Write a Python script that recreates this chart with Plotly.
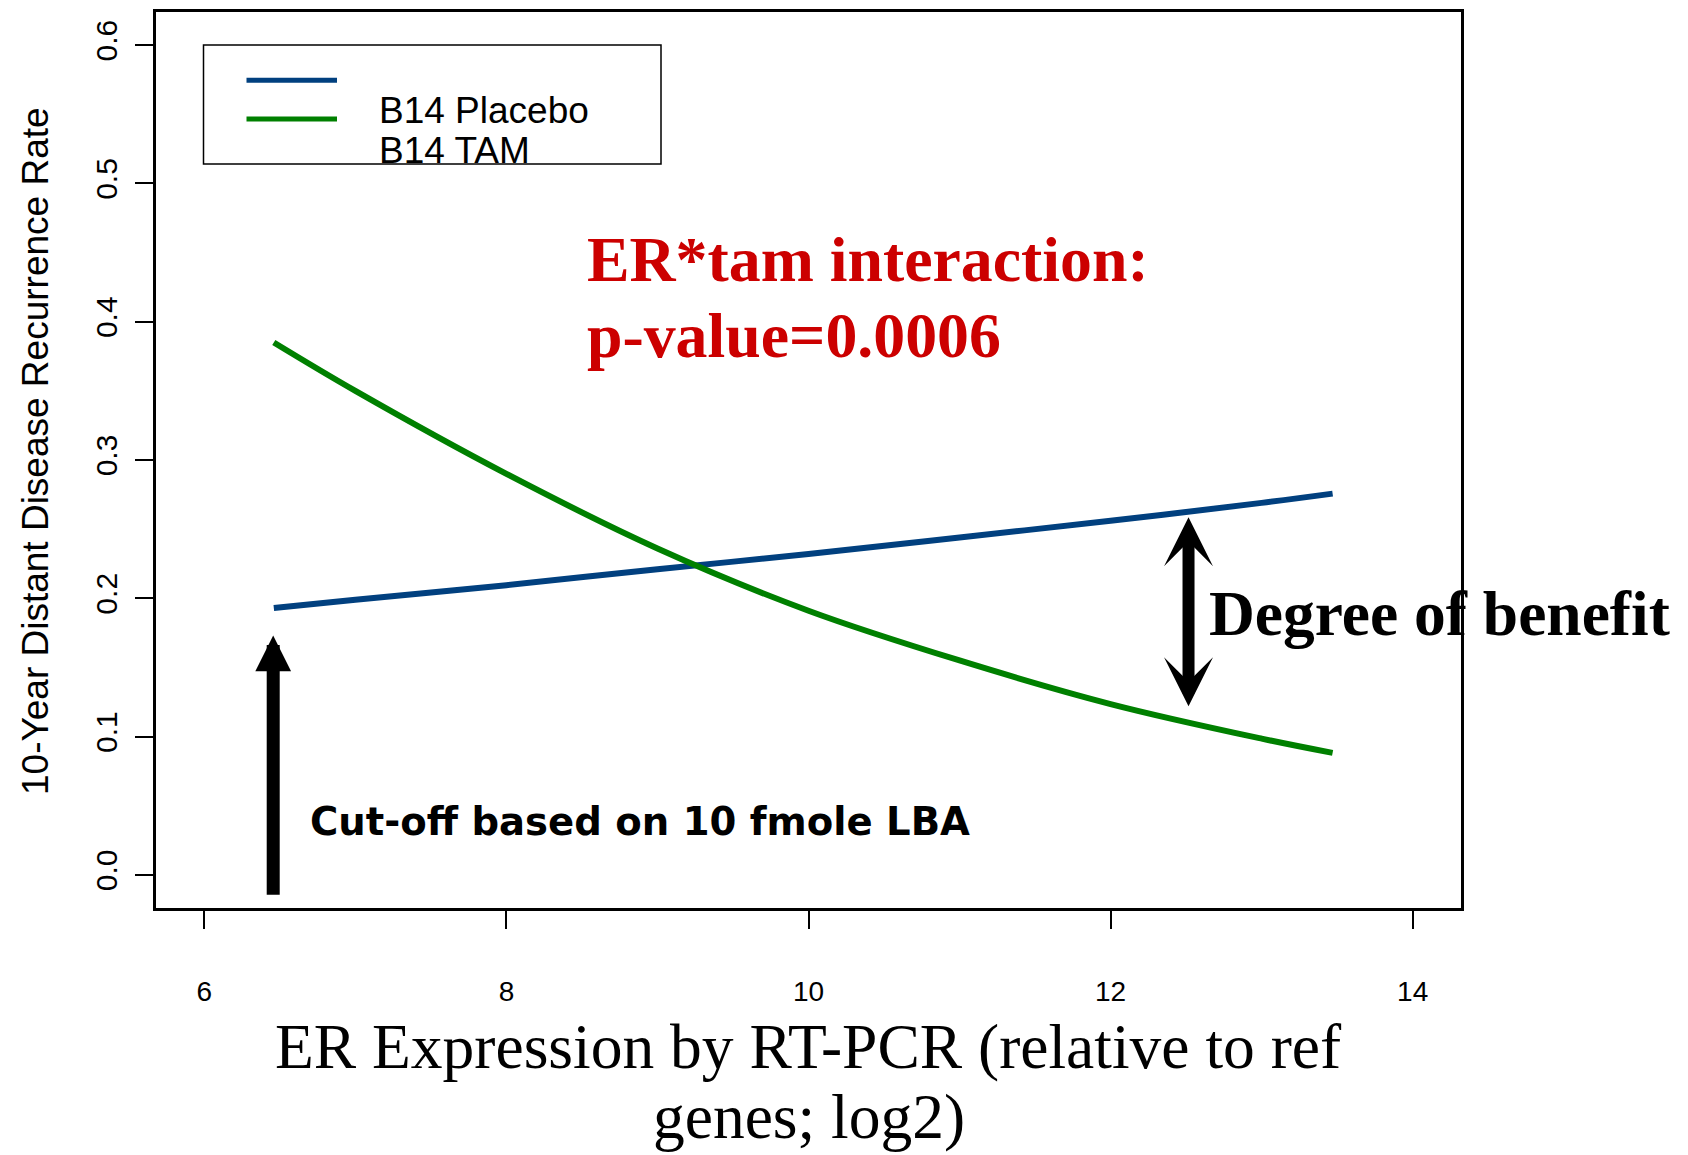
import plotly.graph_objects as go

# ---- data ----
er_x = [6.46, 7, 8, 9, 10, 11, 12, 13, 13.47]
placebo_rate = [0.193, 0.199, 0.2095, 0.221, 0.232, 0.244, 0.256, 0.269, 0.2757]
tam_rate = [0.385, 0.350, 0.290, 0.236, 0.191, 0.155, 0.1235, 0.0985, 0.0882]

series_names = ["B14 Placebo", "B14 TAM"]
x_ticks = [6, 8, 10, 12, 14]
x_ticklabels = ["6", "8", "10", "12", "14"]
y_ticks = [0.0, 0.1, 0.2, 0.3, 0.4, 0.5, 0.6]
y_ticklabels = ["0.0", "0.1", "0.2", "0.3", "0.4", "0.5", "0.6"]

cutoff_x = 6.456
cutoff_arrow_y = [-0.0155, 0.173]
benefit_x = 12.516
benefit_arrow_y = [0.1209, 0.2586]

BLUE = "#01407f"
GREEN = "#008000"
RED = "#cc0000"

W, H = 1688, 1155
ML, MR, MT, MB = 156, 227, 9, 247
PW = W - ML - MR
PH = H - MT - MB


def pxx(px):
    return (px - ML) / PW


def pyy(py):
    return (H - MB - py) / PH


fig = go.Figure()
fig.add_trace(go.Scatter(x=er_x, y=placebo_rate, mode="lines", name=series_names[0],
                         line=dict(color=BLUE, width=6, shape="spline"), showlegend=False))
fig.add_trace(go.Scatter(x=er_x, y=tam_rate, mode="lines", name=series_names[1],
                         line=dict(color=GREEN, width=6, shape="spline"), showlegend=False))

serif = "Liberation Serif, Times New Roman, serif"
sans = "Liberation Sans, Arial, sans-serif"

annotations = [
    # y axis title
    dict(text="10-Year Distant Disease Recurrence Rate", xref="paper", yref="paper",
         x=pxx(35.5), y=pyy(450), textangle=-90, showarrow=False,
         font=dict(family=sans, size=37, color="black"), xanchor="center", yanchor="middle"),
    # x axis title (two lines)
    dict(text="ER Expression by RT-PCR (relative to ref", xref="paper", yref="paper",
         x=pxx(808.5), y=pyy(1047), showarrow=False,
         font=dict(family=serif, size=63.5, color="black"), xanchor="center", yanchor="middle"),
    dict(text="genes; log2)", xref="paper", yref="paper",
         x=pxx(808.5), y=pyy(1117), showarrow=False,
         font=dict(family=serif, size=63.5, color="black"), xanchor="center", yanchor="middle"),
    # red interaction text
    dict(text="<b>ER*tam interaction:</b>", xref="paper", yref="paper",
         x=pxx(585), y=pyy(257.5), showarrow=False,
         font=dict(family=serif, size=63.8, color=RED), xanchor="left", yanchor="middle"),
    dict(text="<b>p-value=0.0006</b>", xref="paper", yref="paper",
         x=pxx(585), y=pyy(334), showarrow=False,
         font=dict(family=serif, size=63.8, color=RED), xanchor="left", yanchor="middle"),
    # degree of benefit
    dict(text="<b>Degree of benefit</b>", xref="paper", yref="paper",
         x=pxx(1207), y=pyy(613), showarrow=False,
         font=dict(family=serif, size=63.5, color="black"), xanchor="left", yanchor="middle"),
    # cut-off text
    dict(text="<b>Cut-off based on 10 fmole LBA</b>", xref="paper", yref="paper",
         x=pxx(308), y=pyy(821), showarrow=False,
         font=dict(family="Comic Sans MS, DejaVu Sans, sans-serif", size=38.6, color="black"),
         xanchor="left", yanchor="middle"),
    # legend texts
    dict(text=series_names[0], xref="paper", yref="paper",
         x=pxx(377), y=pyy(108), showarrow=False,
         font=dict(family=sans, size=37, color="black"), xanchor="left", yanchor="middle"),
    dict(text=series_names[1], xref="paper", yref="paper",
         x=pxx(377), y=pyy(148), showarrow=False,
         font=dict(family=sans, size=37, color="black"), xanchor="left", yanchor="middle"),
    # cut-off arrow
    dict(x=cutoff_x, y=cutoff_arrow_y[1], ax=cutoff_x, ay=cutoff_arrow_y[0],
         xref="x", yref="y", axref="x", ayref="y", text="", showarrow=True,
         arrowhead=2, arrowsize=0.55, arrowwidth=13, arrowcolor="black"),
    # degree of benefit double arrow
    dict(x=benefit_x, y=benefit_arrow_y[1], ax=benefit_x, ay=benefit_arrow_y[0],
         xref="x", yref="y", axref="x", ayref="y", text="", showarrow=True,
         arrowside="end+start", arrowhead=3, startarrowhead=3,
         arrowsize=0.68, startarrowsize=0.68, arrowwidth=12, arrowcolor="black"),
]

shapes = [
    # legend box
    dict(type="rect", xref="paper", yref="paper", x0=pxx(203.5), x1=pxx(661),
         y0=pyy(161.5), y1=pyy(42), line=dict(color="black", width=1.5), fillcolor="rgba(0,0,0,0)"),
    dict(type="line", xref="paper", yref="paper", x0=pxx(246.5), x1=pxx(337),
         y0=pyy(77.5), y1=pyy(77.5), line=dict(color=BLUE, width=5)),
    dict(type="line", xref="paper", yref="paper", x0=pxx(246.5), x1=pxx(337),
         y0=pyy(116.3), y1=pyy(116.3), line=dict(color=GREEN, width=5)),
]

fig.update_layout(
    width=W, height=H,
    margin=dict(l=ML, r=MR, t=MT, b=MB, pad=0),
    paper_bgcolor="white", plot_bgcolor="white",
    showlegend=False,
    annotations=annotations,
    shapes=shapes,
)
fig.update_xaxes(range=[5.68, 14.32], tickvals=x_ticks, ticktext=x_ticklabels,
                 showgrid=False, zeroline=False, showline=True, mirror=True,
                 linecolor="black", linewidth=3, ticks="outside", ticklen=18, tickwidth=2,
                 tickcolor="black", ticklabelstandoff=38,
                 tickfont=dict(family=sans, size=28, color="black"))
fig.update_yaxes(range=[-0.024, 0.624], tickvals=y_ticks, ticktext=y_ticklabels,
                 showgrid=False, zeroline=False, showline=True, mirror=True,
                 linecolor="black", linewidth=3, ticks="outside", ticklen=18, tickwidth=2,
                 tickcolor="black", tickangle=-90, ticklabelstandoff=6,
                 tickfont=dict(family=sans, size=30, color="black"))

fig.write_html("out.html")
